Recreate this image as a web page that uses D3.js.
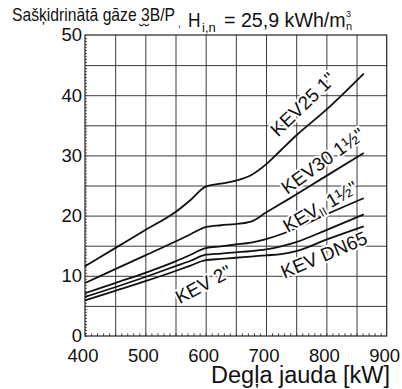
<!DOCTYPE html>
<html>
<head>
<meta charset="utf-8">
<script src="https://cdn.jsdelivr.net/npm/d3@7"></script>
<style>
  html, body { margin: 0; padding: 0; background: #fff; }
  svg { display: block; font-family: "Liberation Sans", Arial, Helvetica, sans-serif; }
</style>
</head>
<body>
<div id="chart"></div>
<script>
// burner output (kW) shared by all curves
const power = [400, 450, 500, 550, 575, 600, 625, 650, 675, 700, 725, 750, 800, 862];

// pressure drop, one array per valve
const kev25  = [11.6, 14.6, 17.6, 20.6, 22.6, 24.8, 25.3, 25.8, 26.7, 28.5, 30.9, 33.3, 37.6, 43.6];
const kev30  = [ 8.8, 11.1, 13.4, 15.7, 16.9, 18.1, 18.4, 18.6, 19.0, 20.5, 22.0, 23.5, 26.6, 30.4];
const kevII  = [ 7.1,  8.8, 10.5, 12.4, 13.5, 14.6, 14.9, 15.2, 15.5, 16.1, 16.9, 17.9, 20.2, 22.9];
const kev2   = [ 6.5,  8.1,  9.8, 11.6, 12.5, 13.5, 13.7, 13.9, 14.1, 14.4, 14.9, 15.6, 17.6, 20.2];
const kevDN  = [ 5.9,  7.5,  9.1, 10.8, 11.7, 12.6, 12.8, 13.0, 13.2, 13.4, 13.6, 14.1, 16.0, 18.2];

const xTicks = [400, 500, 600, 700, 800, 900];
const yTicks = [0, 10, 20, 30, 40, 50];

const title = "Sašķidrinātā gāze 3B/P";
const xTitle = "Degļa jauda [kW]";

const width = 402;
const height = 389;
const margin = {left: 85, right: 15.3, top: 35, bottom: 53};
const plotW = width - margin.left - margin.right;
const plotH = height - margin.top - margin.bottom;

const svg = d3.select("#chart")
    .append("svg")
    .attr("width", width)
    .attr("height", height);

const x = d3.scaleLinear().domain([400, 900]).range([margin.left, margin.left + plotW]);
const y = d3.scaleLinear().domain([0, 50]).range([margin.top + plotH, margin.top]);

// --- grid ---
svg.append("g")
    .attr("transform", `translate(0,${margin.top + plotH})`)
    .call(d3.axisBottom(x).tickValues(d3.range(450, 900, 50)).tickSize(-plotH).tickFormat(""))
    .call(g => g.select(".domain").remove())
    .selectAll("line").attr("stroke", "#3a3a3a").attr("stroke-width", 1);

svg.append("g")
    .attr("transform", `translate(${margin.left},0)`)
    .call(d3.axisLeft(y).tickValues(d3.range(5, 50, 5)).tickSize(-plotW).tickFormat(""))
    .call(g => g.select(".domain").remove())
    .selectAll("line").attr("stroke", "#3a3a3a").attr("stroke-width", 1);

// minor ticks
svg.append("g")
    .attr("transform", `translate(${margin.left},0)`)
    .call(d3.axisLeft(y).tickValues(d3.range(0, 50, 0.5)).tickSize(-2).tickFormat(""))
    .call(g => g.select(".domain").remove())
    .selectAll("line").attr("stroke", "#333").attr("stroke-width", 0.8);

svg.append("g")
    .attr("transform", `translate(0,${margin.top + plotH})`)
    .call(d3.axisBottom(x).tickValues(d3.range(400, 900, 10)).tickSize(-2.7).tickFormat(""))
    .call(g => g.select(".domain").remove())
    .selectAll("line").attr("stroke", "#333").attr("stroke-width", 0.9);

// frame
svg.append("rect")
    .attr("x", margin.left)
    .attr("y", margin.top)
    .attr("width", plotW)
    .attr("height", plotH)
    .attr("fill", "none")
    .attr("stroke", "#222")
    .attr("stroke-width", 1.2);

// --- tick labels ---
svg.append("g")
    .attr("transform", `translate(${margin.left},0)`)
    .call(d3.axisLeft(y).tickValues(yTicks).tickSize(0).tickPadding(3))
    .call(g => g.select(".domain").remove())
    .selectAll("text")
    .attr("font-family", "Liberation Sans, Arial, sans-serif")
    .attr("font-size", 18.5)
    .attr("fill", "#111");

svg.append("g")
    .attr("transform", `translate(0,${margin.top + plotH})`)
    .call(d3.axisBottom(x).tickValues(xTicks).tickSize(0).tickPadding(12.6))
    .call(g => g.select(".domain").remove())
    .selectAll("text")
    .attr("dx", -2.5)
    .attr("font-family", "Liberation Sans, Arial, sans-serif")
    .attr("font-size", 18.5)
    .attr("fill", "#111");

// --- curves ---
const series = [kev25, kev30, kevII, kev2, kevDN];
const line = d3.line()
    .x((d, i) => x(power[i]))
    .y(d => y(d))
    .curve(d3.curveMonotoneX);

svg.append("g")
    .selectAll("path")
    .data(series)
    .join("path")
    .attr("d", line)
    .attr("fill", "none")
    .attr("stroke", "#111")
    .attr("stroke-width", 1.8);

// --- curve labels ---
const labels = [
    {kw: 761, v: 38.5, angle: -44, parts: [["KEV25 1\"", 0]]},
    {kw: 794, v: 29.1, angle: -36, parts: [["KEV30 1\u00BD\"", 0]]},
    {kw: 790, v: 21.5, angle: -30, parts: [["KEV", 0], ["II", 1], [" 1\u00BD\"", 0]]},
    {kw: 796, v: 13.5, angle: -23, parts: [["KEV DN65", 0]]},
    {kw: 596, v: 8.6,  angle: -28, parts: [["KEV 2\"", 0]]}
];

labels.forEach(l => {
    const t = svg.append("text")
        .attr("transform", `translate(${x(l.kw)},${y(l.v)}) rotate(${l.angle})`)
        .attr("text-anchor", "middle")
        .attr("dy", "0.35em")
        .attr("font-size", 19)
        .attr("fill", "#111")
        .attr("stroke", "#fff")
        .attr("stroke-width", 4)
        .attr("paint-order", "stroke")
        .attr("stroke-linejoin", "round");
    l.parts.forEach(([s, sub], i) => {
        const ts = t.append("tspan").text(s);
        if (sub) ts.attr("font-size", 12).attr("dy", 3.5);
        else if (i > 0) ts.attr("dy", -3.5);
    });
});

// --- heading (one text, parts placed as tspans) ---
const head = svg.append("text").attr("fill", "#111");

head.append("tspan")
    .attr("x", 12).attr("y", 21)
    .attr("font-size", 18.6)
    .attr("textLength", 163)
    .attr("lengthAdjust", "spacingAndGlyphs")
    .text(title);

head.append("tspan")
    .attr("x", 139).attr("y", 36)
    .attr("font-size", 16)
    .text("\u02D8\u02D8");

head.append("tspan")
    .attr("x", 178).attr("y", 27)
    .attr("font-size", 10)
    .text(",");

head.append("tspan")
    .attr("x", 188).attr("y", 27)
    .attr("font-size", 20.5)
    .attr("textLength", 12.5)
    .attr("lengthAdjust", "spacingAndGlyphs")
    .text("H");

head.append("tspan")
    .attr("x", 202).attr("y", 31.5)
    .attr("font-size", 13)
    .text("i,n");

head.append("tspan")
    .attr("x", 224).attr("y", 27)
    .attr("font-size", 20.5)
    .attr("textLength", 121.7)
    .attr("lengthAdjust", "spacingAndGlyphs")
    .text("= 25,9 kWh/m");

head.append("tspan")
    .attr("x", 346).attr("y", 17)
    .attr("font-size", 9)
    .text("3");

head.append("tspan")
    .attr("x", 346).attr("y", 29.5)
    .attr("font-size", 11)
    .text("n");

svg.append("text")
    .attr("x", 390)
    .attr("y", 383)
    .attr("text-anchor", "end")
    .attr("font-size", 23.5)
    .attr("fill", "#111")
    .text(xTitle);
</script>
</body>
</html>
